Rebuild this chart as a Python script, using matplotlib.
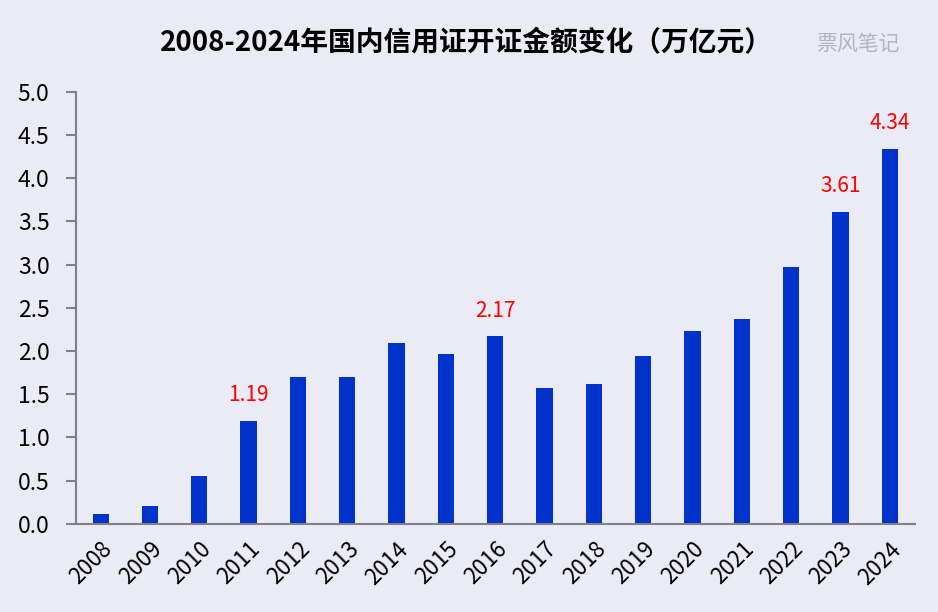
import numpy as np
import matplotlib.pyplot as plt

plt.rcParams['font.family'] = ['Noto Sans CJK SC', 'DejaVu Sans']

years = [str(y) for y in range(2008, 2025)]
amounts = [0.12, 0.21, 0.55, 1.19, 1.70, 1.70, 2.09, 1.96, 2.17,
           1.57, 1.62, 1.94, 2.23, 2.37, 2.97, 3.61, 4.34]
labeled = {'2011': '1.19', '2016': '2.17', '2023': '3.61', '2024': '4.34'}

bg = '#ebebf5'
fig = plt.figure(figsize=(9.38, 6.12), dpi=100, facecolor=bg)
ax = fig.add_axes([0.081, 0.144, 0.894, 0.706], facecolor=bg)

x = np.arange(len(years))
ax.bar(x, amounts, width=0.33, color='#0033cc')

for i, yr in enumerate(years):
    if yr in labeled:
        ax.text(i, amounts[i] + 0.17, labeled[yr], ha='center', va='bottom',
                color='#ff0000', fontsize=15)

ax.set_xlim(-0.5, len(years) - 0.5)
ax.set_ylim(0, 5)
ax.set_yticks(np.arange(0, 5.01, 0.5))
ax.set_yticklabels([f'{v:.1f}' for v in np.arange(0, 5.01, 0.5)], fontsize=16.5)
ax.set_xticks(x)
ax.set_xticklabels(years, rotation=45, ha='right', rotation_mode='anchor', fontsize=16)
ax.tick_params(axis='x', length=0, pad=10)
ax.tick_params(axis='y', length=7, color='#808088', width=1.5, pad=12)

for s in ['top', 'right']:
    ax.spines[s].set_visible(False)
for s in ['left', 'bottom']:
    ax.spines[s].set_color('#808088')
    ax.spines[s].set_linewidth(1.5)

fig.text(0.497, 0.93, '2008-2024年国内信用证开证金额变化（万亿元）',
         ha='center', va='center', fontsize=20, fontweight='bold')
fig.text(0.915, 0.928, '票风笔记', ha='center', va='center', fontsize=15,
         color='#b4b4be')

fig.savefig('out.png', dpi=100, facecolor=bg)
